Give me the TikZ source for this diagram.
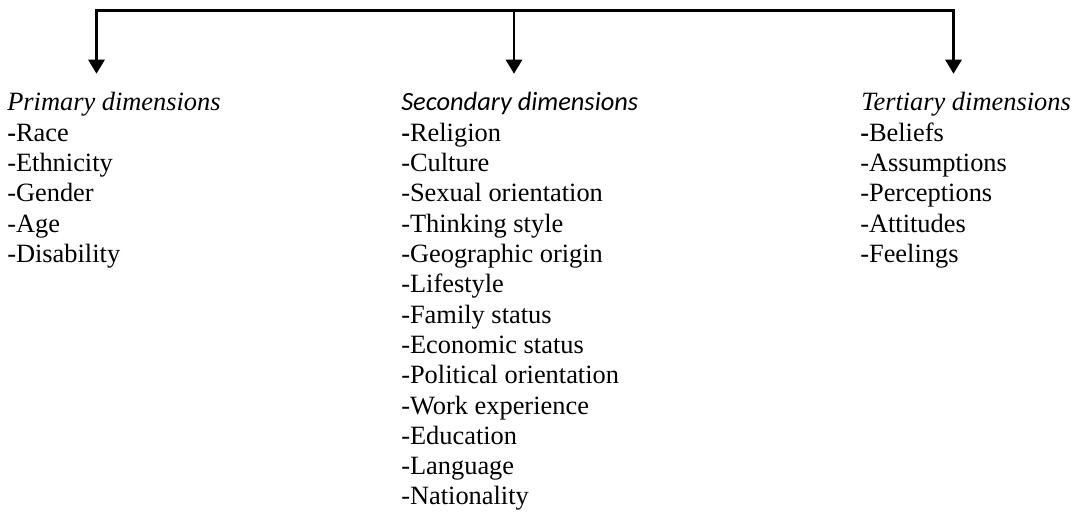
\documentclass[tikz,border=0pt]{standalone}
\usepackage{fontspec}
\setmainfont{Liberation Serif}
\newfontfamily\calfont{Carlito}
\usetikzlibrary{arrows.meta}
\begin{document}
\begin{tikzpicture}[x=0.75pt,y=-0.75pt,
  txt/.style={anchor=base west,inner sep=0pt,font=\fontsize{19.8pt}{22.7pt}\selectfont},
  hdr/.style={anchor=base west,inner sep=0pt,font=\fontsize{19.8pt}{22.7pt}\selectfont\itshape},
  hdrsans/.style={anchor=base west,inner sep=0pt,font=\fontsize{19.8pt}{22.7pt}\selectfont\calfont\itshape},
  tip/.style={Triangle[width=12pt,length=10.5pt]},
  conn/.style={line width=2pt,-{Triangle[width=12pt,length=10.5pt]},shorten >=14pt}]
\useasboundingbox (0,0) rectangle (1080,513);

\node[hdr] (ph) at (7,111) {Primary dimensions};
\node[hdrsans] (sh) at (401,111) {Secondary dimensions};
\node[hdr] (th) at (861,111) {Tertiary dimensions};

\foreach \t [count=\i] in {Race,Ethnicity,Gender,Age,Disability}
  \node[txt] (p\i) at (7,{111+30.3*\i}) {\ifnum\i=1 \textbf{-}\else -\fi\t};
\foreach \t [count=\i] in {Religion,Culture,Sexual orientation,Thinking style,Geographic origin,Lifestyle,Family status,Economic status,Political orientation,Work experience,Education,Language,Nationality}
  \node[txt] (s\i) at (401,{111+30.3*\i}) {\ifnum\i=1 \textbf{-}\else -\fi\t};
\foreach \t [count=\i] in {Beliefs,Assumptions,Perceptions,Attitudes,Feelings}
  \node[txt] (t\i) at (860,{111+30.3*\i}) {\ifnum\i=1 \textbf{-}\else -\fi\t};

\coordinate (c1) at (96.5,10.3);
\coordinate (c2) at (514,10.3);
\coordinate (c3) at (953.5,10.3);

\draw[conn,{Triangle[width=12pt,length=10.5pt]}-{Triangle[width=12pt,length=10.5pt]},shorten <=14pt]
  (c1 |- ph.north) -- (c1) -- (c3) -- (c3 |- th.north);
\draw[conn] (c2) -- (c2 |- sh.north);
\end{tikzpicture}
\end{document}
